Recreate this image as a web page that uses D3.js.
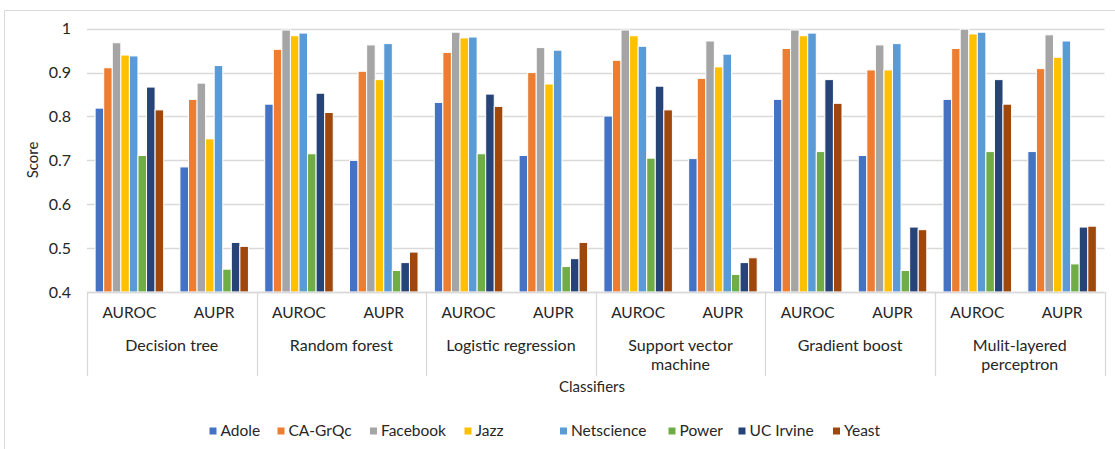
<!DOCTYPE html>
<html>
<head>
<meta charset="utf-8">
<script src="https://cdn.jsdelivr.net/npm/d3@7"></script>
<style>
  body { margin: 0; background: #fff; }
  svg { display: block; font-family: Lato, "Open Sans", sans-serif; }
</style>
</head>
<body>
<div class="container"></div>
<script>
// 分类器与指标
const classifiers = ["Decision tree", "Random forest", "Logistic regression", "Support vector\nmachine", "Gradient boost", "Mulit-layered\nperceptron"];
const metrics = ["AUROC", "AUPR"];
const seriesNames = ["Adole", "CA-GrQc", "Facebook", "Jazz", "Netscience", "Power", "UC Irvine", "Yeast"];
const seriesColors = ["#4472C4", "#ED7D31", "#A5A5A5", "#FFC000", "#5B9BD5", "#70AD47", "#264478", "#9E480E"];
const yTicks = [0.4, 0.5, 0.6, 0.7, 0.8, 0.9, 1];

// 每个数据集的得分（顺序：DT-AUROC, DT-AUPR, RF-AUROC, RF-AUPR, ...）
const adole      = [0.819, 0.685, 0.828, 0.700, 0.832, 0.711, 0.801, 0.704, 0.839, 0.711, 0.839, 0.720];
const caGrQc     = [0.911, 0.839, 0.953, 0.903, 0.946, 0.900, 0.928, 0.887, 0.955, 0.906, 0.955, 0.909];
const facebook   = [0.968, 0.876, 0.997, 0.963, 0.992, 0.957, 0.997, 0.972, 0.997, 0.963, 0.999, 0.986];
const jazz       = [0.940, 0.749, 0.984, 0.884, 0.979, 0.874, 0.984, 0.913, 0.984, 0.906, 0.988, 0.935];
const netscience = [0.938, 0.916, 0.990, 0.966, 0.981, 0.951, 0.960, 0.942, 0.990, 0.966, 0.992, 0.972];
const power      = [0.711, 0.452, 0.715, 0.449, 0.715, 0.458, 0.705, 0.440, 0.720, 0.449, 0.720, 0.464];
const ucIrvine   = [0.867, 0.513, 0.853, 0.467, 0.851, 0.476, 0.869, 0.467, 0.884, 0.548, 0.884, 0.548];
const yeast      = [0.815, 0.504, 0.809, 0.491, 0.823, 0.513, 0.815, 0.478, 0.830, 0.542, 0.828, 0.550];
const seriesValues = [adole, caGrQc, facebook, jazz, netscience, power, ucIrvine, yeast];

const W = 1115, H = 449;
const plot = { left: 87, right: 1104.5, top: 28.7, bottom: 292 };

const svg = d3.select(".container").append("svg")
  .attr("width", W).attr("height", H);

// 图表外框（上、左）
svg.append("path")
  .attr("d", `M4.5,${H} V10.5 H${W}`)
  .attr("fill", "none").attr("stroke", "#d9d9d9").attr("stroke-width", 1);

// 子类别（分类器 × 指标）
const slots = [];
classifiers.forEach((c, ci) => metrics.forEach((m, mi) => slots.push({ ci, mi, key: ci + "|" + m, metric: m })));

const x0 = d3.scaleBand().domain(slots.map(d => d.key)).range([plot.left, plot.right]).padding(0);
const xGroup = d3.scaleBand().domain(classifiers).range([plot.left, plot.right]).padding(0);
const x1 = d3.scaleBand().domain(seriesNames).range([0, x0.bandwidth()]).paddingInner(0).paddingOuter(0.95);
const y = d3.scaleLinear().domain([0.4, 1]).range([plot.bottom, plot.top]);

// 网格线
svg.append("g")
  .selectAll("line").data(yTicks).join("line")
  .attr("x1", plot.left).attr("x2", plot.right)
  .attr("y1", d => Math.round(y(d)) + 0.5).attr("y2", d => Math.round(y(d)) + 0.5)
  .attr("stroke", "#d9d9d9").attr("stroke-width", 1.3);

// Y 轴刻度文字
svg.append("g")
  .selectAll("text").data(yTicks).join("text")
  .attr("x", 71).attr("y", d => y(d))
  .attr("dy", "0.35em")
  .attr("text-anchor", "end")
  .attr("fill", "#262626")
  .style("font-size", "16px")
  .text(d => d === 1 ? "1" : d.toFixed(1));

// Y 轴标题
svg.append("text")
  .attr("transform", `translate(38,160) rotate(-90)`)
  .attr("text-anchor", "middle")
  .attr("fill", "#262626")
  .style("font-size", "15px")
  .text("Score");

// 柱子
seriesNames.forEach((name, si) => {
  svg.append("g")
    .selectAll("rect").data(slots).join("rect")
    .attr("x", d => x0(d.key) + x1(name))
    .attr("width", x1.bandwidth())
    .attr("y", d => y(seriesValues[si][d.ci * 2 + d.mi]))
    .attr("height", d => plot.bottom - y(seriesValues[si][d.ci * 2 + d.mi]))
    .attr("fill", seriesColors[si])
    .attr("stroke", "#fff")
    .attr("stroke-width", 1);
});

// 类别轴：横线与分组竖线
const axisBottom = 376;
svg.append("line")
  .attr("x1", plot.left).attr("x2", plot.right)
  .attr("y1", plot.bottom + 0.5).attr("y2", plot.bottom + 0.5)
  .attr("stroke", "#d9d9d9").attr("stroke-width", 1.3);
const bounds = classifiers.map(c => xGroup(c)).concat([plot.right]);
svg.append("g")
  .selectAll("line").data(bounds).join("line")
  .attr("x1", d => Math.round(d) + 0.5).attr("x2", d => Math.round(d) + 0.5)
  .attr("y1", plot.bottom).attr("y2", axisBottom)
  .attr("stroke", "#d9d9d9").attr("stroke-width", 1.3);

// 指标标签
svg.append("g")
  .selectAll("text").data(slots).join("text")
  .attr("x", d => x0(d.key) + x0.bandwidth() / 2)
  .attr("y", 313).attr("dy", "0.35em")
  .attr("text-anchor", "middle")
  .attr("fill", "#262626")
  .style("font-size", "15.5px")
  .text(d => d.metric);

// 分类器标签
svg.append("g")
  .selectAll("text").data(classifiers).join("text")
  .attr("x", d => xGroup(d) + xGroup.bandwidth() / 2)
  .attr("y", 345)
  .attr("text-anchor", "middle")
  .attr("fill", "#262626")
  .style("font-size", "16px")
  .each(function (d) {
    d.split("\n").forEach((line, i) => {
      d3.select(this).append("tspan")
        .attr("x", xGroup(d) + xGroup.bandwidth() / 2)
        .attr("y", 345 + i * 19)
        .attr("dy", "0.35em")
        .text(line);
    });
  });

// X 轴标题
svg.append("text")
  .attr("x", 592).attr("y", 387).attr("dy", "0.35em")
  .attr("text-anchor", "middle")
  .attr("fill", "#262626")
  .style("font-size", "15px")
  .text("Classifiers");

// 图例
const legendX = [209.5, 277.5, 370, 464.5, 560, 668.5, 738.5, 833];
const legend = svg.append("g");
seriesNames.forEach((name, i) => {
  legend.append("rect")
    .attr("x", legendX[i]).attr("y", 427.5)
    .attr("width", 7).attr("height", 7)
    .attr("fill", seriesColors[i]);
  legend.append("text")
    .attr("x", legendX[i] + 11).attr("y", 431).attr("dy", "0.35em")
    .attr("fill", "#262626")
    .style("font-size", "15.5px")
    .text(name);
});
</script>
</body>
</html>
